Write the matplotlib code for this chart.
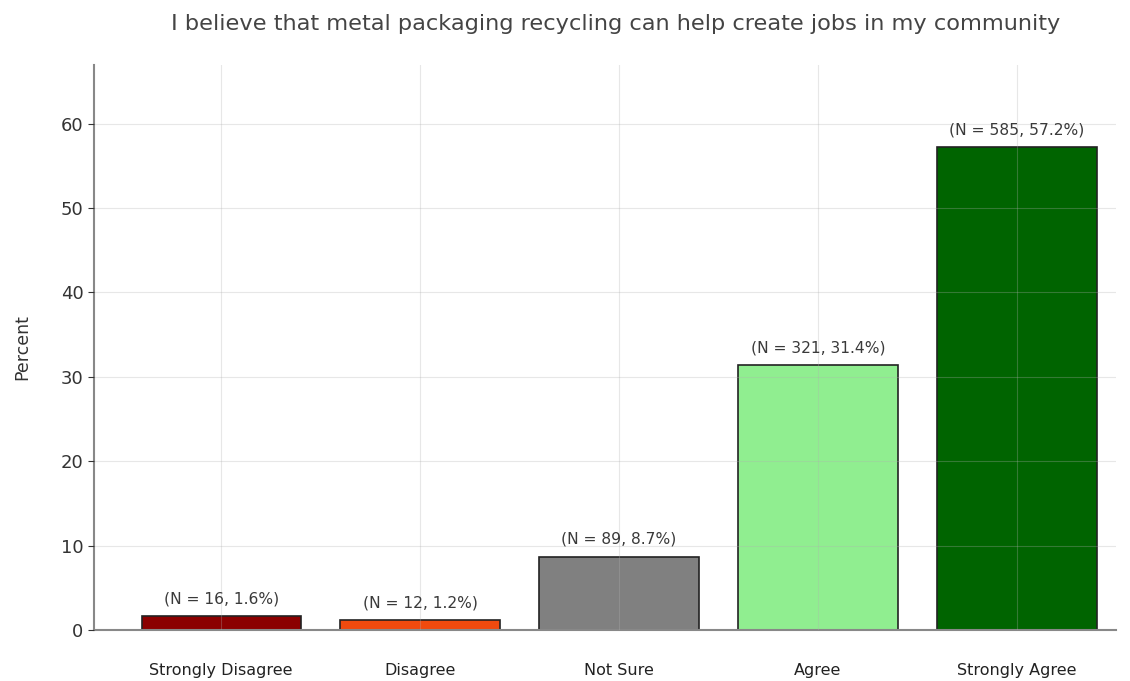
import matplotlib
matplotlib.use("Agg")
import matplotlib.pyplot as plt

categories = ["Strongly Disagree", "Disagree", "Not Sure", "Agree", "Strongly Agree"]
counts = [16, 12, 89, 321, 585]
percents = [1.6, 1.2, 8.7, 31.4, 57.2]
colors = ["#8B0000", "#F04A0E", "#808080", "#90EE90", "#006400"]
title = "I believe that metal packaging recycling can help create jobs in my community"

fig = plt.figure(figsize=(11.3, 6.81), dpi=100)
ax = fig.add_axes([0.083, 0.075, 0.905, 0.83])

x = list(range(len(categories)))
ax.bar(x, percents, width=0.8, color=colors, edgecolor="#222222", linewidth=1.2, zorder=1)

for xi, n, p in zip(x, counts, percents):
    ax.annotate(f"(N = {n}, {p}%)", (xi, p), xytext=(0, 7), textcoords="offset points",
                ha="center", va="bottom", fontsize=11.2, color="#3a3a3a")

ax.set_xlim(-0.64, 4.5)
ax.set_ylim(0, 67)
ax.set_xticks(x)
ax.set_xticklabels(categories, fontsize=11.5, color="#222222")
ax.set_yticks(range(0, 61, 10))
ax.tick_params(axis="x", length=0, pad=24)
ax.tick_params(axis="y", labelsize=13, colors="#333333", length=4, width=0.8)

ax.grid(True, color="#b0b0b0", alpha=0.3, linewidth=0.8, zorder=2)
ax.set_axisbelow(False)

for side in ("top", "right"):
    ax.spines[side].set_visible(False)
for side in ("left", "bottom"):
    ax.spines[side].set_color("#888888")
    ax.spines[side].set_linewidth(1.5)

ax.set_ylabel("Percent", fontsize=12.5, color="#333333", labelpad=21)
fig.text(0.545, 0.965, title, ha="center", va="center", fontsize=16.2, color="#444444")

fig.savefig("out.png", dpi=100)
